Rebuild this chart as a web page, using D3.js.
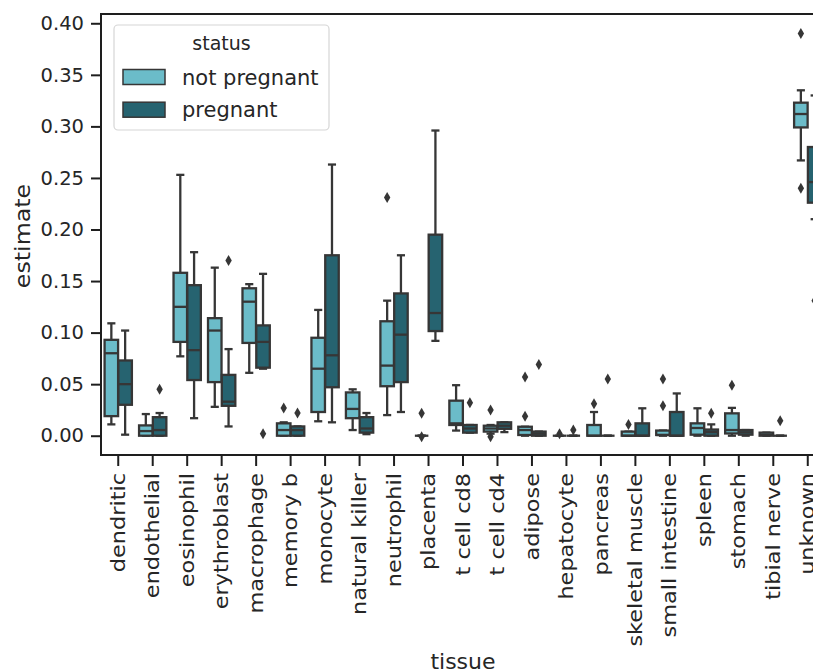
<!DOCTYPE html>
<html>
<head>
<meta charset="utf-8">
<script src="https://cdn.jsdelivr.net/npm/d3@7"></script>
<style>
  body { margin: 0; overflow: hidden; background: #fff; }
  text { font-family: "DejaVu Sans", sans-serif; fill: #262626; }
</style>
</head>
<body>
<div id="chart"></div>
<script>
const tissues = ["dendritic", "endothelial", "eosinophil", "erythroblast", "macrophage",
  "memory b", "monocyte", "natural killer", "neutrophil", "placenta", "t cell cd8",
  "t cell cd4", "adipose", "hepatocyte", "pancreas", "skeletal muscle",
  "small intestine", "spleen", "stomach", "tibial nerve", "unknown"];
const statuses = ["not pregnant", "pregnant"];
const yTicks = [0, 0.05, 0.10, 0.15, 0.20, 0.25, 0.30, 0.35, 0.40];

// [whisker low, q1, median, q3, whisker high]
const notPregnant = [
  [0.011, 0.019, 0.080, 0.093, 0.109],
  [0.000, 0.000, 0.0045, 0.010, 0.021],
  [0.077, 0.091, 0.125, 0.158, 0.253],
  [0.028, 0.052, 0.102, 0.114, 0.163],
  [0.061, 0.090, 0.130, 0.143, 0.147],
  [0.000, 0.000, 0.0055, 0.012, 0.013],
  [0.014, 0.023, 0.065, 0.095, 0.122],
  [0.0055, 0.017, 0.026, 0.042, 0.045],
  [0.020, 0.048, 0.068, 0.111, 0.131],
  [0.000, 0.000, 0.000, 0.000, 0.000],
  [0.005, 0.0104, 0.012, 0.034, 0.049],
  [0.002, 0.004, 0.007, 0.0097, 0.0104],
  [0.000, 0.0007, 0.0055, 0.0087, 0.0087],
  [0.000, 0.000, 0.000, 0.000, 0.000],
  [0.000, 0.000, 0.000, 0.0104, 0.023],
  [0.000, 0.000, 0.000, 0.004, 0.004],
  [0.000, 0.0007, 0.0007, 0.005, 0.005],
  [0.000, 0.001, 0.0075, 0.012, 0.0266],
  [0.000, 0.0022, 0.0055, 0.0217, 0.027],
  [0.000, 0.000, 0.001, 0.003, 0.003],
  [0.267, 0.299, 0.312, 0.323, 0.335]
];
const notPregnantOutliers = [
  [], [], [], [], [], [0.027], [], [], [0.231], [0.0217, -0.001], [], [0.025, -0.001],
  [0.057, 0.019], [0.002], [0.031], [0.011], [0.055, 0.029], [], [0.049], [], [0.390, 0.240]
];
const pregnant = [
  [0.001, 0.030, 0.050, 0.073, 0.102],
  [0.000, 0.000, 0.0055, 0.018, 0.022],
  [0.017, 0.054, 0.083, 0.146, 0.178],
  [0.009, 0.029, 0.033, 0.059, 0.084],
  [0.065, 0.066, 0.091, 0.107, 0.157],
  [0.000, 0.000, 0.0055, 0.009, 0.009],
  [0.013, 0.047, 0.078, 0.175, 0.263],
  [0.0015, 0.003, 0.007, 0.018, 0.022],
  [0.023, 0.052, 0.098, 0.138, 0.175],
  [0.092, 0.1015, 0.119, 0.195, 0.296],
  [0.003, 0.003, 0.007, 0.0104, 0.0104],
  [0.0035, 0.0067, 0.0097, 0.013, 0.013],
  [0.000, 0.000, 0.002, 0.004, 0.004],
  [0.000, 0.000, 0.000, 0.000, 0.000],
  [0.000, 0.000, 0.000, 0.000, 0.000],
  [0.000, 0.000, 0.000, 0.012, 0.0266],
  [0.000, 0.000, 0.000, 0.023, 0.041],
  [0.000, 0.000, 0.0035, 0.006, 0.011],
  [0.000, 0.001, 0.0033, 0.0055, 0.0055],
  [0.000, 0.000, 0.000, 0.000, 0.000],
  [0.210, 0.226, 0.246, 0.280, 0.330]
];
const pregnantOutliers = [
  [], [0.045], [], [0.170], [0.002], [0.022], [], [], [], [], [0.032], [],
  [0.069], [0.0055], [0.055], [], [], [0.0217], [], [0.0145], [0.131]
];

const colors = { "not pregnant": "#6bbcc9", "pregnant": "#266370" };
const gray = "#363636";
const lw = 2.3;

const plotLeft = 101, plotTop = 14, plotBottom = 455, plotRight = 825;

const svg = d3.select("#chart").append("svg")
  .attr("width", 840)
  .attr("height", 672);

const x = d3.scaleBand().domain(tissues).range([plotLeft, plotRight]);
const bw = x.bandwidth();
const xs = d3.scaleBand().domain(statuses).range([0.1 * bw, 0.9 * bw]);
const boxW = xs.bandwidth() * 0.98;

const y = d3.scaleLinear().domain([-0.0187, 0.409]).range([plotBottom, plotTop]);

// flat list of boxes
const boxes = [];
tissues.forEach((t, i) => {
  boxes.push({ tissue: t, status: "not pregnant", s: notPregnant[i], out: notPregnantOutliers[i] });
  boxes.push({ tissue: t, status: "pregnant", s: pregnant[i], out: pregnantOutliers[i] });
});

const g = svg.append("g");

const box = g.selectAll("g.box")
  .data(boxes)
  .enter()
  .append("g")
  .attr("class", "box")
  .attr("transform", d => "translate(" + (x(d.tissue) + xs(d.status) + xs.bandwidth() / 2) + ",0)");

// whiskers
box.append("line")
  .attr("x1", 0).attr("x2", 0)
  .attr("y1", d => y(d.s[0])).attr("y2", d => y(d.s[1]))
  .attr("stroke", gray).attr("stroke-width", lw);
box.append("line")
  .attr("x1", 0).attr("x2", 0)
  .attr("y1", d => y(d.s[3])).attr("y2", d => y(d.s[4]))
  .attr("stroke", gray).attr("stroke-width", lw);

// caps
[0, 4].forEach(k => {
  box.append("line")
    .attr("x1", -boxW * 0.3).attr("x2", boxW * 0.3)
    .attr("y1", d => y(d.s[k])).attr("y2", d => y(d.s[k]))
    .attr("stroke", gray).attr("stroke-width", lw);
});

// box
box.append("rect")
  .attr("x", -boxW / 2)
  .attr("width", boxW)
  .attr("y", d => y(d.s[3]))
  .attr("height", d => y(d.s[1]) - y(d.s[3]))
  .attr("fill", d => colors[d.status])
  .attr("stroke", gray)
  .attr("stroke-width", lw);

// median
box.append("line")
  .attr("x1", -boxW / 2).attr("x2", boxW / 2)
  .attr("y1", d => y(d.s[2])).attr("y2", d => y(d.s[2]))
  .attr("stroke", gray).attr("stroke-width", lw);

// fliers
box.selectAll("path.flier")
  .data(d => d.out)
  .enter()
  .append("path")
  .attr("class", "flier")
  .attr("d", "M0,-5.5L3.2,0L0,5.5L-3.2,0Z")
  .attr("transform", v => "translate(0," + y(v) + ")")
  .attr("fill", gray);

// frame
svg.append("rect")
  .attr("x", plotLeft).attr("y", plotTop)
  .attr("width", plotRight - plotLeft).attr("height", plotBottom - plotTop)
  .attr("fill", "none")
  .attr("stroke", "#1e1e1e")
  .attr("stroke-width", 2);

// y axis
const yAxis = svg.append("g")
  .attr("transform", "translate(" + plotLeft + ",0)")
  .call(d3.axisLeft(y).tickValues(yTicks).tickFormat(d3.format(".2f")).tickSize(10).tickPadding(7));
yAxis.select(".domain").remove();
yAxis.selectAll(".tick line").attr("stroke", "#1e1e1e").attr("stroke-width", 2);
yAxis.selectAll(".tick text")
  .attr("font-size", "19.5px")
  .attr("font-family", "DejaVu Sans")
  .attr("fill", "#1e1e1e");

// x axis
const xAxis = svg.append("g")
  .attr("transform", "translate(0," + plotBottom + ")")
  .call(d3.axisBottom(x).tickSize(11));
xAxis.select(".domain").remove();
xAxis.selectAll(".tick line").attr("stroke", "#1e1e1e").attr("stroke-width", 2);
xAxis.selectAll(".tick text")
  .attr("x", 0)
  .attr("y", 0)
  .attr("dy", "0.34em")
  .attr("transform", "translate(0,18) rotate(-90) scale(1.15,1)")
  .attr("text-anchor", "end")
  .attr("font-size", "19.5px")
  .attr("font-family", "DejaVu Sans")
  .attr("fill", "#1e1e1e");

// axis labels
svg.append("text")
  .attr("x", (plotLeft + plotRight) / 2)
  .attr("y", 669)
  .attr("text-anchor", "middle")
  .attr("font-size", "22px")
  .attr("fill", "#1e1e1e")
  .text("tissue");

svg.append("text")
  .attr("transform", "translate(30,236) rotate(-90) scale(1.08,1)")
  .attr("text-anchor", "middle")
  .attr("font-size", "22px")
  .attr("fill", "#1e1e1e")
  .text("estimate");

// legend
const legend = svg.append("g");
legend.append("rect")
  .attr("x", 114).attr("y", 25)
  .attr("width", 215).attr("height", 105)
  .attr("rx", 4)
  .attr("fill", "white")
  .attr("fill-opacity", 0.8)
  .attr("stroke", "#d6d6d6")
  .attr("stroke-width", 1.2);
legend.append("text")
  .attr("x", 221.5).attr("y", 50)
  .attr("text-anchor", "middle")
  .attr("font-size", "19px")
  .attr("fill", "#1e1e1e")
  .text("status");
const item = legend.selectAll("g.item")
  .data(statuses)
  .enter()
  .append("g")
  .attr("transform", (d, i) => "translate(0," + (i * 32.7) + ")");
item.append("rect")
  .attr("x", 123).attr("y", 69.5)
  .attr("width", 42).attr("height", 15)
  .attr("fill", d => colors[d])
  .attr("stroke", gray)
  .attr("stroke-width", 1.5);
item.append("text")
  .attr("x", 182).attr("y", 84.5)
  .attr("font-size", "21px")
  .attr("fill", "#1e1e1e")
  .text(d => d);
</script>
</body>
</html>
